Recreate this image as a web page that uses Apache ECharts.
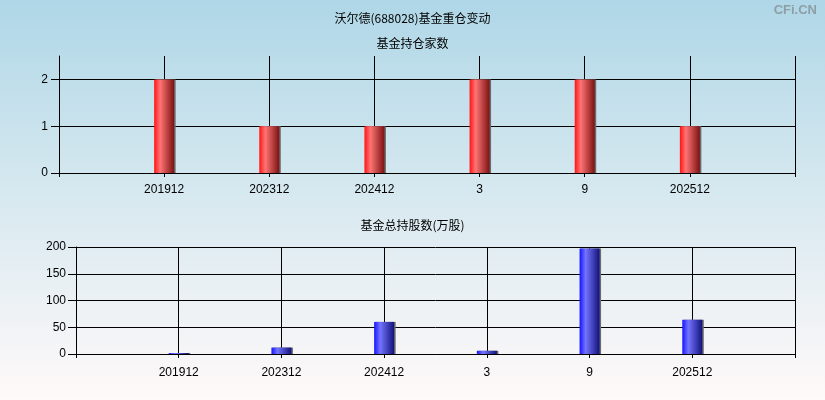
<!DOCTYPE html>
<html>
<head>
<meta charset="utf-8">
<script src="https://cdn.jsdelivr.net/npm/echarts@6/dist/echarts.min.js"></script>
<style>html,body{margin:0;padding:0;}#c{width:825px;height:400px;}</style>
</head>
<body>
<div id="c"></div>
<script>
const categories = ['201912', '202312', '202412', '3', '9', '202512'];
const fundCount = [2, 1, 1, 2, 2, 1];
const fundShares = [1.9, 12, 60, 6, 197, 64];
const countTicks = [0, 1, 2];
const sharesTicks = [0, 50, 100, 150, 200];

const mainTitle = '沃尔德(688028)基金重仓变动';
const topTitle = '基金持仓家数';
const bottomTitle = '基金总持股数(万股)';

const axisCats = [''].concat(categories, ['']);
const padData = arr => [null].concat(arr, [null]);
const cjk = '"Noto Sans CJK SC", sans-serif';
const latin = '"Liberation Sans", Arial, sans-serif';

function grad(c0, c1, c2) {
  return new echarts.graphic.LinearGradient(0, 0, 1, 0, [
    {offset: 0, color: c0}, {offset: 0.3, color: c1}, {offset: 1, color: c2}
  ]);
}

function xAxis(gi, margin) {
  return {
    type: 'category', gridIndex: gi, data: axisCats, boundaryGap: false,
    axisLine: {lineStyle: {color: '#000', width: 1}},
    axisTick: {show: true, length: 4, lineStyle: {color: '#000'}},
    axisLabel: {color: '#000', fontFamily: latin, fontSize: 12, margin: margin, interval: 0},
    splitLine: {show: true, lineStyle: {color: '#000', width: 1}}
  };
}

const chart = echarts.init(document.getElementById('c'));
chart.setOption({
  animation: false,
  backgroundColor: new echarts.graphic.LinearGradient(0, 0, 0, 1, [
    {offset: 0, color: '#afd7e7'},
    {offset: 0.5, color: '#d8e9f0'},
    {offset: 1, color: '#fff9f9'}
  ]),
  title: [
    {text: mainTitle, left: 'center', top: 12, padding: 0,
     textStyle: {fontSize: 12, fontWeight: 'normal', color: '#000', fontFamily: cjk}},
    {text: topTitle, left: 'center', top: 37, padding: 0,
     textStyle: {fontSize: 12, fontWeight: 'normal', color: '#000', fontFamily: cjk}},
    {text: bottomTitle, left: 'center', top: 219, padding: 0,
     textStyle: {fontSize: 12, fontWeight: 'normal', color: '#000', fontFamily: cjk}},
    {text: 'CFi.CN', right: 8, top: 4, padding: 0,
     textStyle: {fontSize: 13, fontWeight: 'bold', color: '#8e9ea6', fontFamily: latin}}
  ],
  grid: [
    {left: 59, right: 30, top: 56, height: 117},
    {left: 76, right: 30, top: 247, height: 107}
  ],
  xAxis: [xAxis(0, 11), xAxis(1, 13)],
  yAxis: [
    {type: 'value', gridIndex: 0, min: 0, max: 2.5, interval: 1,
     axisLine: {show: true, lineStyle: {color: '#000'}},
     axisTick: {show: true, length: 8, customValues: countTicks, lineStyle: {color: '#000'}},
     axisLabel: {color: '#000', fontFamily: latin, fontSize: 12, margin: 11, customValues: countTicks},
     splitLine: {show: true, lineStyle: {color: ['#000', '#000', '#000', 'rgba(0,0,0,0)'], width: 1}}},
    {type: 'value', gridIndex: 1, min: 0, max: 200, interval: 50,
     axisLine: {show: true, lineStyle: {color: '#000'}},
     axisTick: {show: true, length: 8, lineStyle: {color: '#000'}},
     axisLabel: {color: '#000', fontFamily: latin, fontSize: 12, margin: 10},
     splitLine: {show: true, lineStyle: {color: '#000', width: 1}}}
  ],
  series: [
    {type: 'bar', xAxisIndex: 0, yAxisIndex: 0, data: padData(fundCount), barWidth: 20,
     itemStyle: {color: grad('#ff1414', '#ff7474', '#7c1212'),
       shadowColor: '#6a6a6a', shadowOffsetX: 1.5, shadowBlur: 0}},
    {type: 'bar', xAxisIndex: 1, yAxisIndex: 1, data: padData(fundShares), barWidth: 20,
     itemStyle: {color: grad('#1414ff', '#7474ff', '#12127c'),
       shadowColor: '#6a6a6a', shadowOffsetX: 1.5, shadowBlur: 0}}
  ]
});
</script>
</body>
</html>
